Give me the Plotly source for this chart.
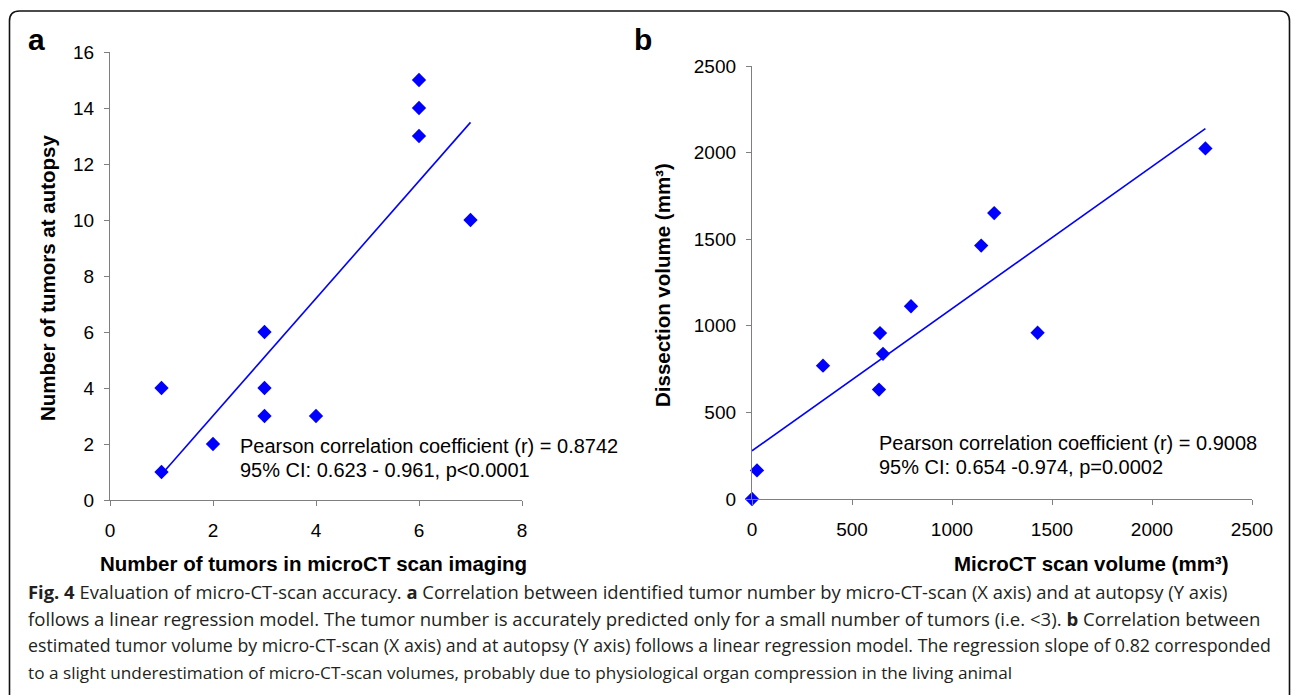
import numpy as np
import plotly.graph_objects as go

# ---- Data ----
a_x = [1, 1, 2, 3, 3, 3, 4, 6, 6, 6, 7]
a_y = [1, 4, 2, 6, 4, 3, 3, 15, 14, 13, 10]

b_x = [0, 25, 355, 640, 655, 635, 795, 1428, 1146, 1211, 2267]
b_y = [0, 165, 770, 958, 838, 632, 1113, 960, 1463, 1651, 2024]

a_xticks = [0, 2, 4, 6, 8]
a_yticks = [0, 2, 4, 6, 8, 10, 12, 14, 16]
b_ticks = [0, 500, 1000, 1500, 2000, 2500]

a_stats = ["Pearson correlation coefficient (r) = 0.8742", "95% CI: 0.623 - 0.961, p<0.0001"]
b_stats = ["Pearson correlation coefficient (r) = 0.9008", "95% CI: 0.654 -0.974, p=0.0002"]

caption = [
    "<b>Fig. 4</b> Evaluation of micro-CT-scan accuracy. <b>a</b> Correlation between identified tumor number by micro-CT-scan (X axis) and at autopsy (Y axis)",
    "follows a linear regression model. The tumor number is accurately predicted only for a small number of tumors (i.e. &lt;3). <b>b</b> Correlation between",
    "estimated tumor volume by micro-CT-scan (X axis) and at autopsy (Y axis) follows a linear regression model. The regression slope of 0.82 corresponded",
    "to a slight underestimation of micro-CT-scan volumes, probably due to physiological organ compression in the living animal",
]

W, H = 1293, 695
def px(x):
    return x / W
def py(y):
    return 1 - y / H

BLUE = "#0000FF"
AX = "#7f7f7f"
FONT = "Liberation Sans, Arial, sans-serif"

fig = go.Figure()

# regression lines: least-squares fit of each data set
ka, ca = np.polyfit(a_x, a_y, 1)
kb, cb = np.polyfit(b_x, b_y, 1)
la_x = [min(a_x), max(a_x)]
lb_x = [min(b_x), max(b_x)]

fig.add_trace(go.Scatter(x=la_x, y=[ka * v + ca for v in la_x], mode="lines",
                         line=dict(color=BLUE, width=1.6), xaxis="x", yaxis="y", showlegend=False))
fig.add_trace(go.Scatter(x=a_x, y=a_y, mode="markers",
                         marker=dict(symbol="diamond", color=BLUE, size=11),
                         xaxis="x", yaxis="y", showlegend=False, cliponaxis=False))
fig.add_trace(go.Scatter(x=lb_x, y=[kb * v + cb for v in lb_x], mode="lines",
                         line=dict(color=BLUE, width=1.6), xaxis="x2", yaxis="y2", showlegend=False))
fig.add_trace(go.Scatter(x=b_x, y=b_y, mode="markers",
                         marker=dict(symbol="diamond", color=BLUE, size=11),
                         xaxis="x2", yaxis="y2", showlegend=False, cliponaxis=False))

axis_common = dict(showgrid=False, zeroline=False, showline=True, linecolor=AX, linewidth=1.3,
                   ticks="outside", ticklen=5, tickcolor=AX, tickwidth=1.3, automargin=False,
                   tickfont=dict(family=FONT, size=19, color="#000"))

fig.update_layout(
    width=W, height=H, autosize=False,
    margin=dict(l=0, r=0, t=0, b=0, pad=0),
    paper_bgcolor="white", plot_bgcolor="white",
    xaxis=dict(domain=[px(110), px(522)], range=[0, 8], tickvals=a_xticks, anchor="y",
               ticklabelstandoff=8, **axis_common),
    yaxis=dict(domain=[py(500), py(52)], range=[0, 16], tickvals=a_yticks, anchor="x",
               ticklabelstandoff=6, **axis_common),
    xaxis2=dict(domain=[px(752), px(1252)], range=[0, 2500], tickvals=b_ticks, anchor="y2",
                ticklabelstandoff=8, **axis_common),
    yaxis2=dict(domain=[py(499), py(66)], range=[0, 2500], tickvals=b_ticks, anchor="x2",
                ticklabelstandoff=6, **axis_common),
)

ann = []
def add(text, x, y, size=16, bold=False, xanchor="left", yanchor="middle", angle=0, family=FONT, color="#000"):
    ann.append(dict(text=("<b>%s</b>" % text) if bold else text, x=px(x), y=py(y),
                    xref="paper", yref="paper", xanchor=xanchor, yanchor=yanchor,
                    showarrow=False, textangle=angle,
                    font=dict(family=family, size=size, color=color)))

add("a", 36, 40, size=30, bold=True, xanchor="center")
add("b", 643, 40, size=30, bold=True, xanchor="center")

add("Number of tumors in microCT scan imaging", 313, 563, size=20.5, bold=True, xanchor="center")
add("Number of tumors at autopsy", 47, 278, size=20.5, bold=True, xanchor="center", angle=-90)
add("MicroCT scan volume (mm³)", 1091, 563, size=20.5, bold=True, xanchor="center")
add("Dissection volume (mm³)", 662, 285, size=20.5, bold=True, xanchor="center", angle=-90)

add(a_stats[0], 238, 446, size=20)
add(a_stats[1], 238, 470, size=20)
add(b_stats[0], 877, 443, size=20)
add(b_stats[1], 877, 467, size=20)

cap_y = [591, 618, 645, 672]
cap_size = [18.4, 18.6, 17.75, 17.2]
for t, yy, sz in zip(caption, cap_y, cap_size):
    add(t, 26, yy, size=sz, family="Open Sans, sans-serif", color="#231f20")

fig.update_layout(annotations=ann)

# rounded frame, open at the bottom
r = 10
x0, x1, y0 = 9.5, 1289.5, 11
path = (f"M {px(x0)} 0 L {px(x0)} {py(y0 + r)} Q {px(x0)} {py(y0)} {px(x0 + r)} {py(y0)} "
        f"L {px(x1 - r)} {py(y0)} Q {px(x1)} {py(y0)} {px(x1)} {py(y0 + r)} L {px(x1)} 0")
fig.add_shape(type="path", path=path, xref="paper", yref="paper",
              line=dict(color="#111", width=1.6))

fig.write_html("out.html", config={"displayModeBar": False},
               post_script="document.body.style.margin='0';document.body.style.overflow='hidden';")
